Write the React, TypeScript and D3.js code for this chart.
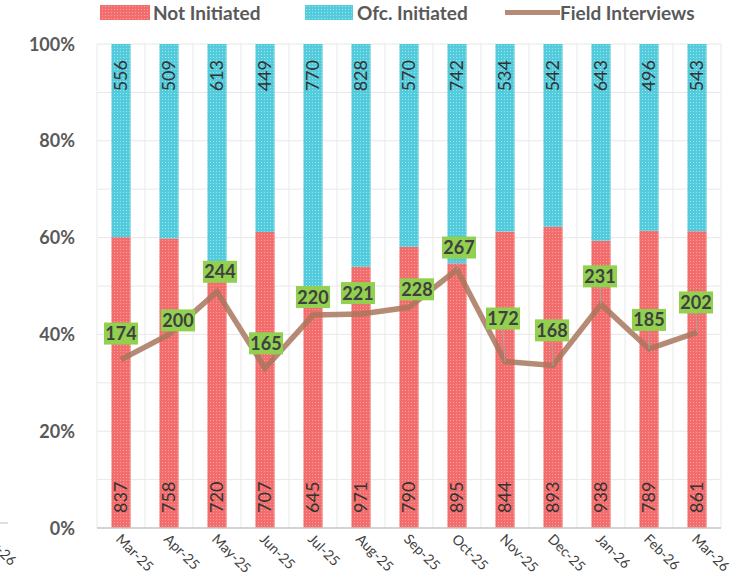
import * as d3 from "d3";

const months = [
  "Mar-25", "Apr-25", "May-25", "Jun-25", "Jul-25", "Aug-25", "Sep-25",
  "Oct-25", "Nov-25", "Dec-25", "Jan-26", "Feb-26", "Mar-26",
];
const notInitiated = [837, 758, 720, 707, 645, 971, 790, 895, 844, 893, 938, 789, 861];
const ofcInitiated = [556, 509, 613, 449, 770, 828, 570, 742, 534, 542, 643, 496, 543];
const fieldInterviews = [174, 200, 244, 165, 220, 221, 228, 267, 172, 168, 231, 185, 202];
const pctTicks = [0, 20, 40, 60, 80, 100];

// how far (px) each green label sits above its point, and sideways nudge
const labelLift = [26, 14, 20, 25, 18, 21, 18, 22, 43, 35, 28, 29, 30];
const labelNudge = [0, 9, 3, 1, 0, -3, 8, 2, -2, -1, -1, 0, -1];

const W = 753;
const H = 582;
const left = 97;
const right = 721;
const top = 44;
const bottom = 528;

const FONT = "Lato, 'Open Sans', sans-serif";
const RED = "#f36d6d";
const CYAN = "#52cbdc";
const LINE = "#a8775e";

export default function App() {
  const x = d3.scaleBand<string>().domain(months).range([left, right]).paddingInner(0.6).paddingOuter(0.3);
  const y = d3.scaleLinear().domain([0, 100]).range([bottom, top]);
  const y2 = d3.scaleLinear().domain([0, 500]).range([bottom, top]);
  const bw = x.bandwidth();
  const cx = (m: string) => (x(m) ?? 0) + bw / 2;

  const rows = months.map((m, i) => {
    const total = notInitiated[i] + ofcInitiated[i];
    return { m, ni: notInitiated[i], oi: ofcInitiated[i], pNi: (notInitiated[i] / total) * 100 };
  });

  const line = d3
    .line<number>()
    .x((_, i) => cx(months[i]))
    .y((d) => y2(d));

  const gridY = d3.range(0, 101, 10);
  const gridX = d3.range(0, months.length + 1).map((i) => left + i * x.step());

  return (
    <svg
      width={W}
      height={H}
      viewBox={`0 0 ${W} ${H}`}
      style={{ position: "fixed", left: 0, top: 0, background: "#fff" }}
      fontFamily={FONT}
    >
      <defs>
        <pattern id="redDots" width="3" height="3" patternUnits="userSpaceOnUse">
          <rect width="3" height="3" fill={RED} />
          <rect width="1" height="1" fill="#f8a0a0" />
        </pattern>
        <pattern id="cyanDots" width="3" height="3" patternUnits="userSpaceOnUse">
          <rect width="3" height="3" fill={CYAN} />
          <rect width="1" height="1" fill="#a0e2ec" />
        </pattern>
      </defs>

      {/* grid */}
      {gridY.map((t) => (
        <line key={"gy" + t} x1={left} x2={right} y1={y(t)} y2={y(t)} stroke="#e8e8e8" strokeWidth={1} />
      ))}
      {gridX.map((gx, i) => (
        <line key={"gx" + i} x1={gx} x2={gx} y1={top} y2={bottom} stroke="#e8e8e8" strokeWidth={1} />
      ))}

      {/* bars */}
      {rows.map((r) => (
        <g key={r.m}>
          <rect x={x(r.m)} width={bw} y={y(r.pNi)} height={bottom - y(r.pNi)} fill="url(#redDots)" />
          <rect x={x(r.m)} width={bw} y={y(100)} height={y(r.pNi) - y(100)} fill="url(#cyanDots)" />
          <text
            transform={`translate(${cx(r.m) + 6},${bottom - 15}) rotate(-90)`}
            fontSize={18}
            fill="#333"
          >
            {r.ni}
          </text>
          <text
            transform={`translate(${cx(r.m) + 6},${top + 16}) rotate(-90)`}
            fontSize={18}
            fill="#333"
            textAnchor="end"
          >
            {r.oi}
          </text>
        </g>
      ))}

      {/* baseline */}
      <line x1={left} x2={right} y1={bottom} y2={bottom} stroke="#c8c8c8" strokeWidth={1.5} />

      {/* field interviews line */}
      <path d={line(fieldInterviews) ?? ""} fill="none" stroke={LINE} strokeOpacity={0.85} strokeWidth={5.5} />

      {fieldInterviews.map((v, i) => {
        const px = cx(months[i]);
        const py = y2(v);
        const bx = px + labelNudge[i];
        const by = py - labelLift[i];
        const bh = 22;
        const bwid = 34;
        const gap = py - (by + bh / 2);
        return (
          <g key={"fi" + i}>
            {gap > 10 && i >= 7 && (
              <line x1={bx} x2={px} y1={by + bh / 2} y2={py} stroke="#a6a6a6" strokeWidth={1} />
            )}
            <rect x={bx - bwid / 2} y={by - bh / 2} width={bwid} height={bh} fill="#92d050" />
            <text x={bx} y={by + 6.5} textAnchor="middle" fontSize={18} fontWeight="bold" fill="#404040">
              {v}
            </text>
          </g>
        );
      })}

      {/* y axis labels */}
      {pctTicks.map((t) => (
        <text
          key={"yt" + t}
          x={75}
          y={y(t) + 6.5}
          textAnchor="end"
          fontSize={18}
          fontWeight="bold"
          fill="#595959"
        >
          {t}%
        </text>
      ))}

      {/* x axis labels */}
      {months.map((m) => (
        <text
          key={"xl" + m}
          transform={`translate(${cx(m) - 6},${bottom + 12}) rotate(45)`}
          fontSize={14}
          fill="#404040"
        >
          {m}
        </text>
      ))}

      {/* cropped remnant at the left edge */}
      <line x1={0} x2={8} y1={523} y2={523} stroke="#bfbfbf" strokeWidth={1} />
      <text transform="translate(-22,534) rotate(45)" fontSize={14} fill="#404040">
        Mar-26
      </text>

      {/* legend */}
      <rect x={100} y={5} width={50} height={15} fill="url(#redDots)" />
      <text x={153} y={20} fontSize={19} fontWeight="bold" fill="#595959">
        Not Initiated
      </text>
      <rect x={305} y={5} width={48} height={15} fill="url(#cyanDots)" />
      <text x={357} y={20} fontSize={19} fontWeight="bold" fill="#595959">
        Ofc. Initiated
      </text>
      <line x1={505} x2={560} y1={12.5} y2={12.5} stroke={LINE} strokeOpacity={0.85} strokeWidth={5} />
      <text x={560} y={20} fontSize={19} fontWeight="bold" fill="#595959">
        Field Interviews
      </text>
    </svg>
  );
}
